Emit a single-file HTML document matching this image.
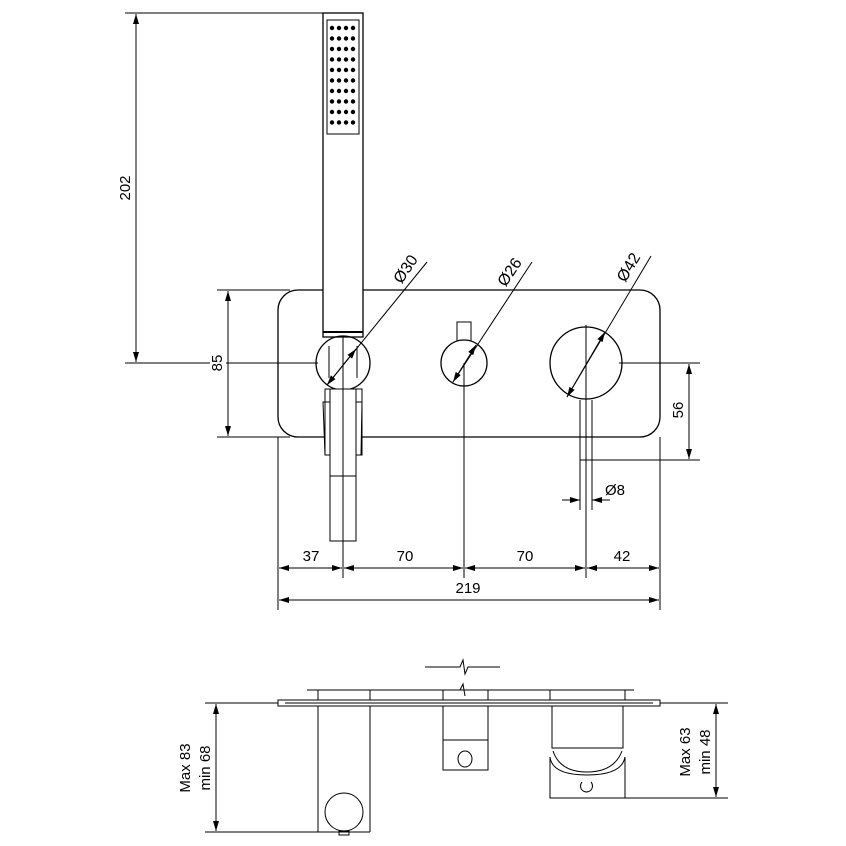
<!DOCTYPE html>
<html><head><style>body{margin:0;background:#fff}svg{display:block}</style></head><body>
<svg width="846" height="846" viewBox="0 0 846 846" xmlns="http://www.w3.org/2000/svg" font-family="Liberation Sans, sans-serif" font-size="15">
<defs>
<marker id="a" viewBox="0 0 10 6" refX="10" refY="3" markerWidth="10" markerHeight="6" orient="auto-start-reverse" markerUnits="userSpaceOnUse"><path d="M0,0L10,3L0,6z" fill="#000"/></marker>
</defs>
<g stroke="#000" fill="none" stroke-width="1">
<line x1="125" y1="13" x2="323" y2="13"/>
<line x1="125" y1="363" x2="318" y2="363"/>
<line x1="136" y1="14" x2="136" y2="362" marker-start="url(#a)" marker-end="url(#a)"/>
<line x1="217" y1="290" x2="290" y2="290"/>
<line x1="217" y1="437" x2="290" y2="437"/>
<line x1="228" y1="291" x2="228" y2="436" marker-start="url(#a)" marker-end="url(#a)"/>
<rect x="278" y="290" width="382" height="147" rx="20" stroke-width="1.3"/>
<rect x="323" y="13" width="40" height="324" fill="#fff" stroke-width="1.3"/>
<rect x="327" y="20" width="32" height="114"/>
<line x1="323" y1="332" x2="363" y2="332" stroke-width="2"/>
<circle cx="343" cy="363" r="27" stroke-width="1.3"/>
<path d="M329,346 L329,378 M357,346 L357,378" />
<rect x="325" y="389" width="37" height="66" fill="#fff"/>
<path d="M323,402 L330,402 L330,455 L325,455 Z M362,402 L356,402 L356,455 L361,455 Z"/>
<rect x="330" y="389" width="26" height="152" fill="#fff"/>
<line x1="330" y1="476" x2="356" y2="476"/>
<rect x="457" y="322" width="14" height="19"/>
<circle cx="464" cy="363" r="23" fill="#fff" stroke-width="1.3"/>
<circle cx="586" cy="363" r="36" stroke-width="1.3"/>
<line x1="580" y1="400" x2="580" y2="510"/>
<line x1="592" y1="400" x2="592" y2="510"/>
<line x1="580" y1="460" x2="700" y2="460"/>
<line x1="619" y1="363" x2="700" y2="363"/>
<line x1="689" y1="364" x2="689" y2="459" marker-start="url(#a)" marker-end="url(#a)"/>
<line x1="562" y1="500" x2="580" y2="500" marker-end="url(#a)"/>
<line x1="610" y1="500" x2="592" y2="500" marker-end="url(#a)"/>
<line x1="343" y1="337" x2="343" y2="578"/>
<line x1="464" y1="363" x2="464" y2="578"/>
<line x1="586" y1="325" x2="586" y2="578"/>
<line x1="278" y1="437" x2="278" y2="610"/>
<line x1="660" y1="437" x2="660" y2="610"/>
<line x1="327" y1="385" x2="427" y2="262"/>
<line x1="327" y1="385" x2="356" y2="349" marker-start="url(#a)" marker-end="url(#a)"/>
<line x1="453" y1="382" x2="532" y2="262"/>
<line x1="453" y1="382" x2="476" y2="345" marker-start="url(#a)" marker-end="url(#a)"/>
<line x1="567" y1="397" x2="651" y2="256"/>
<line x1="567" y1="397" x2="605" y2="332" marker-start="url(#a)" marker-end="url(#a)"/>
<line x1="279" y1="568" x2="342" y2="568" marker-start="url(#a)" marker-end="url(#a)"/>
<line x1="344" y1="568" x2="463" y2="568" marker-start="url(#a)" marker-end="url(#a)"/>
<line x1="465" y1="568" x2="585" y2="568" marker-start="url(#a)" marker-end="url(#a)"/>
<line x1="587" y1="568" x2="659" y2="568" marker-start="url(#a)" marker-end="url(#a)"/>
<line x1="279" y1="600" x2="659" y2="600" marker-start="url(#a)" marker-end="url(#a)"/>
<path d="M425,667 L460,667 L463,660 L465,674 L468,667 L500,667"/>
<line x1="307" y1="690" x2="634" y2="690"/>
<path d="M460,690 L463,684 L465,696"/>
<path d="M318,690V700M370,690V700M443,690V700M488,690V700M550,690V700M625,690V700"/>
<rect x="278" y="700" width="382" height="6"/>
<line x1="285" y1="703" x2="653" y2="703"/>
<line x1="205" y1="703" x2="278" y2="703"/>
<line x1="660" y1="703" x2="728" y2="703"/>
<path d="M318,706V832M370,706V832"/>
<circle cx="344" cy="812" r="19"/>
<rect x="339" y="831" width="10" height="4"/>
<line x1="205" y1="832" x2="370" y2="832"/>
<line x1="216" y1="704" x2="216" y2="831" marker-start="url(#a)" marker-end="url(#a)"/>
<rect x="443" y="706" width="45" height="64"/>
<line x1="443" y1="740" x2="488" y2="740"/>
<ellipse cx="465" cy="759" rx="7" ry="8"/>
<path d="M552,706V748H623V706"/>
<path d="M550,757V798H625V757"/>
<path d="M550,757 Q552,775 587,775 Q622,775 625,757" />
<path d="M553,751 Q560,772 587,772 Q614,772 622,751" />
<path d="M582,782 A6,6 0 1 0 591,782"/>
<line x1="625" y1="798" x2="728" y2="798"/>
<line x1="716" y1="704" x2="716" y2="797" marker-start="url(#a)" marker-end="url(#a)"/>
</g>
<g fill="#000">
<g>
<circle cx="332" cy="28" r="2.2"/><circle cx="339" cy="28" r="2.2"/><circle cx="346" cy="28" r="2.2"/><circle cx="353" cy="28" r="2.2"/>
<circle cx="332" cy="38.5" r="2.2"/><circle cx="339" cy="38.5" r="2.2"/><circle cx="346" cy="38.5" r="2.2"/><circle cx="353" cy="38.5" r="2.2"/>
<circle cx="332" cy="49" r="2.2"/><circle cx="339" cy="49" r="2.2"/><circle cx="346" cy="49" r="2.2"/><circle cx="353" cy="49" r="2.2"/>
<circle cx="332" cy="59.5" r="2.2"/><circle cx="339" cy="59.5" r="2.2"/><circle cx="346" cy="59.5" r="2.2"/><circle cx="353" cy="59.5" r="2.2"/>
<circle cx="332" cy="70" r="2.2"/><circle cx="339" cy="70" r="2.2"/><circle cx="346" cy="70" r="2.2"/><circle cx="353" cy="70" r="2.2"/>
<circle cx="332" cy="80.5" r="2.2"/><circle cx="339" cy="80.5" r="2.2"/><circle cx="346" cy="80.5" r="2.2"/><circle cx="353" cy="80.5" r="2.2"/>
<circle cx="332" cy="91" r="2.2"/><circle cx="339" cy="91" r="2.2"/><circle cx="346" cy="91" r="2.2"/><circle cx="353" cy="91" r="2.2"/>
<circle cx="332" cy="101.5" r="2.2"/><circle cx="339" cy="101.5" r="2.2"/><circle cx="346" cy="101.5" r="2.2"/><circle cx="353" cy="101.5" r="2.2"/>
<circle cx="332" cy="112" r="2.2"/><circle cx="339" cy="112" r="2.2"/><circle cx="346" cy="112" r="2.2"/><circle cx="353" cy="112" r="2.2"/>
<circle cx="332" cy="122.5" r="2.2"/><circle cx="339" cy="122.5" r="2.2"/><circle cx="346" cy="122.5" r="2.2"/><circle cx="353" cy="122.5" r="2.2"/>
</g>
<text x="0" y="0" text-anchor="middle" transform="translate(130,188) rotate(-90)">202</text>
<rect x="210" y="350" width="16" height="26" fill="#fff"/>
<text x="0" y="0" text-anchor="middle" transform="translate(222,363) rotate(-90)">85</text>
<text x="0" y="0" text-anchor="middle" transform="translate(683,410) rotate(-90)">56</text>
<text x="0" y="0" text-anchor="middle" font-size="16" transform="translate(410,272) rotate(-56)">Ø30</text>
<text x="0" y="0" text-anchor="middle" font-size="16" transform="translate(514,275) rotate(-56)">Ø26</text>
<text x="0" y="0" text-anchor="middle" font-size="16" transform="translate(633,270) rotate(-59)">Ø42</text>
<text x="615" y="495" text-anchor="middle">Ø8</text>
<text x="311" y="561" text-anchor="middle">37</text>
<text x="405" y="561" text-anchor="middle">70</text>
<text x="525" y="561" text-anchor="middle">70</text>
<text x="622" y="561" text-anchor="middle">42</text>
<text x="468" y="593" text-anchor="middle">219</text>
<text x="0" y="0" text-anchor="middle" transform="translate(190,768) rotate(-90)">Max 83</text>
<text x="0" y="0" text-anchor="middle" transform="translate(210,768) rotate(-90)">min 68</text>
<text x="0" y="0" text-anchor="middle" transform="translate(690,752) rotate(-90)">Max 63</text>
<text x="0" y="0" text-anchor="middle" transform="translate(710,752) rotate(-90)">min 48</text>
</g>
</svg>
</body></html>
